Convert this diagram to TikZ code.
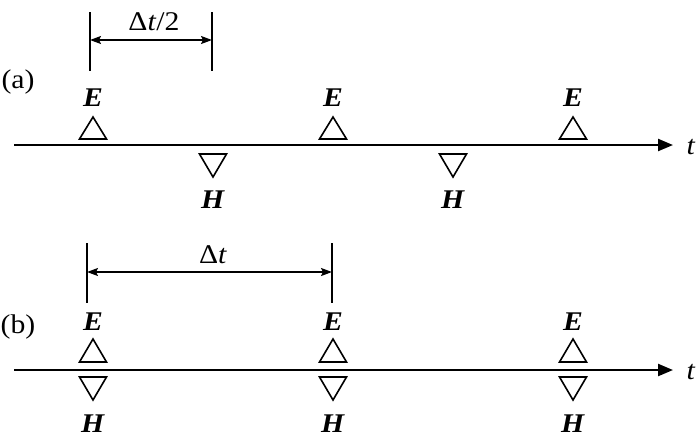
\documentclass[tikz,border=0pt]{standalone}
\usepackage{fontspec}
\setmainfont[FakeStretch=1.1]{Liberation Serif}
\usetikzlibrary{arrows.meta}
\tikzset{>={Stealth[length=11pt,width=8pt,inset=2pt]}}
\tikzset{axis/.style={line width=2.3pt,-{Triangle[length=15pt,width=12pt]}}}
\tikzset{tri/.style={line width=1.6pt,line join=miter}}
\tikzset{dim/.style={line width=1.6pt}}
\tikzset{lbl/.style={inner sep=0pt,font=\fontsize{27}{30}\selectfont}}
\newcommand{\fieldE}{\textbf{\textit{E}}}
\newcommand{\fieldH}{\textbf{\textit{H}}}
\begin{document}
\begin{tikzpicture}[x=1pt,y=-1pt]
  \useasboundingbox (0,0) rectangle (700,440);
  % (a) staggered grid
  \coordinate (a0) at (14,145);
  \coordinate (a1) at (673,145);
  \draw[axis] (a0) -- (a1);
  \node[lbl] (ta) at (691,147) {\textit{t}};
  \node[lbl] (la) at (18,82) {(a)};
  \foreach \x/\n in {93/1,333/2,573/3}{
    \draw[tri] (\x-13.5,139) -- (\x+13.5,139) -- (\x,117) -- cycle;
    \node[lbl] (Ea\n) at (\x,98) {\fieldE};
  }
  \foreach \x/\n in {213/1,453/2}{
    \draw[tri] (\x-13.5,154) -- (\x+13.5,154) -- (\x,177) -- cycle;
    \node[lbl] (Ha\n) at (\x,200) {\fieldH};
  }
  \coordinate (da1) at (90,12);
  \coordinate (da2) at (212,12);
  \draw[dim] (da1) -- ++(0,59);
  \draw[dim] (da2) -- ++(0,59);
  \draw[dim,<->] (90,40) -- (212,40);
  \node[lbl] (dta) at (154,22) {Δ\textit{t}/2};
  % (b) collocated grid
  \coordinate (b0) at (14,370);
  \coordinate (b1) at (673,370);
  \draw[axis] (b0) -- (b1);
  \node[lbl] (tb) at (691,372) {\textit{t}};
  \node[lbl] (lb) at (18,327) {(b)};
  \foreach \x/\n in {93/1,333/2,573/3}{
    \draw[tri] (\x-13.5,362) -- (\x+13.5,362) -- (\x,339) -- cycle;
    \draw[tri] (\x-13.5,377) -- (\x+13.5,377) -- (\x,400) -- cycle;
    \node[lbl] (Eb\n) at (\x,322) {\fieldE};
    \node[lbl] (Hb\n) at (\x,424) {\fieldH};
  }
  \coordinate (db1) at (87,243);
  \coordinate (db2) at (332,243);
  \draw[dim] (db1) -- ++(0,60);
  \draw[dim] (db2) -- ++(0,60);
  \draw[dim,<->] (87,272) -- (332,272);
  \node[lbl] (dtb) at (213,255) {Δ\textit{t}};
\end{tikzpicture}
\end{document}
